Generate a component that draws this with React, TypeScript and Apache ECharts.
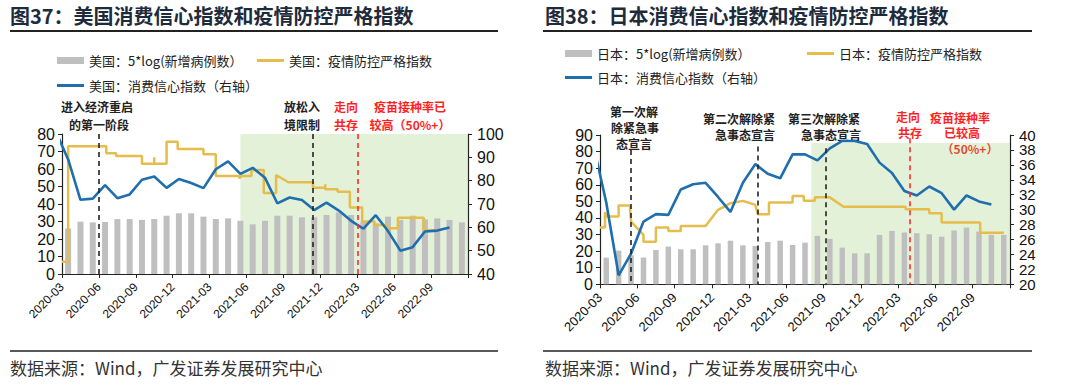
import React, { useEffect, useRef } from 'react';
import * as echarts from 'echarts';

// x positions are months since 2020-03 (0 = start of 2020-03)
const quarterLabels = ['2020-03', '2020-06', '2020-09', '2020-12', '2021-03', '2021-06', '2021-09', '2021-12', '2022-03', '2022-06', '2022-09'];

// Monthly bars 2020-03 .. 2022-11 : 5*log(new cases)
const usCasesLog = [26, 29.9, 29.5, 29.7, 31.4, 31.4, 30.9, 31.4, 33.3, 34.7, 34.7, 32.8, 31.4, 31.8, 30.4, 28.4, 30.4, 33.3, 33.3, 32.4, 32.4, 33.7, 35.2, 33.7, 29.9, 29.0, 32.8, 30.9, 33.3, 31.2, 31.8, 30.9, 29.5];
const jpCasesLog = [16.1, 20.3, 17.5, 16.1, 20.7, 22.7, 21.1, 21.1, 23.5, 24.7, 26.3, 23.5, 23.1, 25.5, 26.3, 23.7, 25.1, 29.2, 27.4, 22.1, 18.7, 18.7, 29.8, 32.2, 31.2, 30.8, 30.2, 28.7, 32.4, 34.2, 31.8, 29.8, 29.8];

// Monthly consumer confidence 2020-02 .. 2022-10 (right axis)
const usConfidence = [101.0, 89.1, 71.8, 72.3, 78.1, 72.5, 74.1, 80.4, 81.8, 76.9, 80.7, 79.0, 76.8, 84.9, 88.3, 82.9, 85.5, 81.2, 70.3, 72.8, 71.7, 67.4, 70.6, 67.2, 62.8, 59.4, 65.2, 58.4, 50.0, 51.5, 58.2, 58.6, 59.9];
const jpConfidence = [38.4, 31.0, 21.2, 24.1, 28.4, 29.4, 29.3, 32.7, 33.4, 33.6, 31.7, 29.7, 33.6, 36.1, 34.8, 34.2, 37.4, 37.4, 36.6, 38.2, 39.2, 39.2, 38.8, 36.3, 34.9, 32.5, 31.9, 33.1, 32.2, 30.0, 31.9, 31.1, 30.7];

// Stringency index, [month position, value]
const usStringency = [[0, 7], [0.5, 7], [0.5, 73], [3.6, 73], [3.6, 69], [4.4, 69], [4.4, 67.4], [6.5, 67.4], [6.5, 63], [7.5, 63], [7.5, 66.7], [7.5, 63], [8.5, 63], [8.5, 75.6], [9.4, 75.6], [9.4, 71.4], [11.5, 71.4], [11.5, 68.4], [12.5, 68.4], [12.5, 56], [14.4, 56], [14.4, 54.7], [14.6, 56], [15.4, 56], [15.4, 59.4], [16.4, 59.4], [16.4, 46.3], [17.4, 46.3], [17.4, 56.6], [18.4, 52.4], [20.4, 52.4], [20.4, 49.3], [21.4, 49.3], [21.4, 51.3], [21.4, 48.4], [22.4, 48.4], [22.4, 47], [23.4, 47], [23.4, 38], [24.4, 38], [24.4, 30], [25.4, 30], [25.4, 28], [26.4, 28], [26.4, 26.1], [27.3, 26.1], [27.3, 32.2], [28.4, 32.2], [28.4, 31], [28.6, 32.2], [29.4, 32.2], [29.4, 25], [30.4, 25]];
const jpStringency = [[0, 34.2], [0.4, 34.2], [0.4, 43.5], [0.5, 40.8], [1.5, 40.8], [1.5, 47.5], [2.4, 47.5], [2.5, 37.8], [3.5, 29.8], [3.5, 25.7], [4.5, 25.7], [4.5, 34.2], [5.5, 34.2], [5.5, 32.2], [6.5, 32.2], [6.5, 35.2], [8.5, 35.2], [9.5, 44.9], [10.5, 48.9], [11.5, 50.3], [12.5, 47.9], [12.7, 42.3], [13.6, 42.3], [13.6, 49.3], [15.5, 49.3], [15.5, 53.3], [16.4, 53.3], [16.4, 50.4], [17.3, 50.4], [17.3, 52.4], [18.5, 52.4], [19.6, 46.8], [24.6, 46.8], [24.6, 45.2], [26.5, 45.2], [26.5, 42.8], [27.5, 42.8], [27.5, 37.2], [30.6, 37.2], [30.6, 31.1], [32.5, 31.1]];

// Event markers: [month position, top value on left axis]
const usEvents = [[3, 80], [20.4, 80]];
const usRedEvents = [[24, 80]];
const jpEvents = [[2.5, 81], [12.7, 83], [18.2, 82]];
const jpRedEvents = [[24.9, 88]];
const usShade = [14.5, 33, 80];
const jpShade = [17, 33, 85.2];

const names = {
  usBar: '美国：5*log(新增病例数）',
  usStr: '美国：疫情防控严格指数',
  usConf: '美国：消费信心指数（右轴）',
  jpBar: '日本：5*log(新增病例数）',
  jpStr: '日本：疫情防控严格指数',
  jpConf: '日本：消费信心指数（右轴）',
};

const GRAY = '#bfbfbf';
const YELLOW = '#e5bd4d';
const BLUE = '#1f6eae';
const AX = '#222';
const NUM_FONT = 'Liberation Sans, Arial, sans-serif';
const CJK = '"Noto Sans CJK SC", sans-serif';

function xAxisFor(gridIndex: number, fontSize: number, margin: number) {
  return {
    type: 'value', gridIndex, min: 0, max: 33, interval: 3,
    axisLine: { show: true, onZero: false, lineStyle: { color: AX, width: 1.2 } },
    axisTick: { show: true, length: 4, lineStyle: { color: AX } },
    splitLine: { show: false },
    axisLabel: {
      rotate: 45, margin, fontSize, color: '#111', fontFamily: NUM_FONT,
      formatter: (v: number) => quarterLabels[Math.round(v / 3)] ?? '',
    },
  };
}
function yAxisFor(gridIndex: number, position: string, min: number, max: number, interval: number, fontSize: number) {
  return {
    type: 'value', gridIndex, position, min, max, interval,
    axisLine: { show: true, lineStyle: { color: AX, width: 1.2 } },
    axisTick: { show: true, length: 4, lineStyle: { color: AX } },
    splitLine: { show: false },
    axisLabel: {
      fontSize, color: '#111', fontFamily: NUM_FONT, margin: position === 'left' ? 7 : 9,
      showMinLabel: true, showMaxLabel: true, hideOverlap: false,
    },
  };
}

function overlaySeries(xi: number, yi: number, shade: number[], events: number[][], redEvents: number[][]) {
  const dash = (c: string) => ({ color: c, type: [5, 4], width: 1.6 });
  return {
    type: 'line', xAxisIndex: xi, yAxisIndex: yi, data: [], z: 10, silent: true,
    markArea: {
      silent: true,
      itemStyle: { color: 'rgba(141,195,95,0.24)' },
      data: [[{ xAxis: shade[0], yAxis: 0 }, { xAxis: shade[1], yAxis: shade[2] }]],
    },
    markLine: {
      silent: true, symbol: ['none', 'none'], label: { show: false },
      data: [
        ...events.map(e => [{ xAxis: e[0], yAxis: e[1], lineStyle: dash('#222') }, { xAxis: e[0], yAxis: 0 }]),
        ...redEvents.map(e => [{ xAxis: e[0], yAxis: e[1], lineStyle: dash('#ff2a2a') }, { xAxis: e[0], yAxis: 0 }]),
      ],
    },
  };
}

function legendItem(name: string, left: number, top: number, isBar: boolean, color: string) {
  return {
    data: [{ name, icon: 'rect', itemStyle: { color } }], left, top, padding: 0, selectedMode: false,
    itemWidth: 27, itemHeight: isBar ? 7 : 3,
    textStyle: { fontSize: 13, color: '#222', fontFamily: CJK },
  };
}

function txt(x: number, y: number, text: string, opts: any = {}) {
  return {
    type: 'text', x, y, silent: true,
    style: {
      text, fill: opts.fill ?? '#222', fontSize: opts.size ?? 12, fontWeight: opts.weight ?? 'bold',
      fontFamily: opts.family ?? CJK, textAlign: opts.align ?? 'center', textVerticalAlign: 'middle',
    },
  };
}
function hline(x1: number, x2: number, y: number, w: number) {
  return { type: 'line', silent: true, shape: { x1, y1: y, x2, y2: y }, style: { stroke: '#222', lineWidth: w } };
}

export default function App() {
  const ref = useRef<HTMLDivElement>(null);
  useEffect(() => {
    if (!ref.current) return;
    const chart = echarts.init(ref.current, null, { renderer: 'svg' });
    const RED = '#ff1f1f';
    const option: any = {
      animation: false,
      backgroundColor: '#fff',
      grid: [
        { left: 62, right: 1080 - 468, top: 134, bottom: 387 - 274, outerBoundsMode: 'none' },
        { left: 600, right: 1080 - 1010, top: 135, bottom: 387 - 284.3, outerBoundsMode: 'none' },
      ],
      xAxis: [xAxisFor(0, 12, 11), xAxisFor(1, 13, 11)],
      yAxis: [
        yAxisFor(0, 'left', 0, 80, 10, 16),
        yAxisFor(0, 'right', 40, 100, 10, 16),
        yAxisFor(1, 'left', 0, 90, 10, 16),
        yAxisFor(1, 'right', 20, 40, 2, 15),
      ],
      legend: [
        legendItem(names.usBar, 57, 54, true, GRAY),
        legendItem(names.usStr, 257, 54, false, YELLOW),
        legendItem(names.usConf, 57, 79, false, BLUE),
        legendItem(names.jpBar, 565, 47, true, GRAY),
        legendItem(names.jpStr, 807, 47, false, YELLOW),
        legendItem(names.jpConf, 565, 71, false, BLUE),
      ],
      series: [
        { name: names.usBar, type: 'bar', xAxisIndex: 0, yAxisIndex: 0, barWidth: 6, itemStyle: { color: GRAY }, data: usCasesLog.map((v, i) => [i + 0.5, v]) },
        { name: names.usStr, type: 'line', xAxisIndex: 0, yAxisIndex: 0, symbol: 'none', lineStyle: { color: YELLOW, width: 2.5 }, itemStyle: { color: YELLOW }, data: usStringency },
        { name: names.usConf, type: 'line', xAxisIndex: 0, yAxisIndex: 1, symbol: 'none', lineStyle: { color: BLUE, width: 2.6 }, itemStyle: { color: BLUE }, data: usConfidence.map((v, i) => [i - 0.5, v]) },
        overlaySeries(0, 0, usShade, usEvents, usRedEvents),
        { name: names.jpBar, type: 'bar', xAxisIndex: 1, yAxisIndex: 2, barWidth: 5.5, itemStyle: { color: GRAY }, data: jpCasesLog.map((v, i) => [i + 0.5, v]) },
        { name: names.jpStr, type: 'line', xAxisIndex: 1, yAxisIndex: 2, symbol: 'none', lineStyle: { color: YELLOW, width: 2.5 }, itemStyle: { color: YELLOW }, data: jpStringency },
        { name: names.jpConf, type: 'line', xAxisIndex: 1, yAxisIndex: 3, symbol: 'none', lineStyle: { color: BLUE, width: 2.6 }, itemStyle: { color: BLUE }, data: jpConfidence.map((v, i) => [i - 0.5, v]) },
        overlaySeries(1, 2, jpShade, jpEvents, jpRedEvents),
      ],
      graphic: [
        txt(10, 15, '图37：美国消费信心指数和疫情防控严格指数', { size: 20, weight: 'bold', fill: '#1d2b3c', align: 'left' }),
        txt(545, 15, '图38：日本消费信心指数和疫情防控严格指数', { size: 20, weight: 'bold', fill: '#1d2b3c', align: 'left' }),
        hline(10, 498, 31, 2),
        hline(543, 1032, 31, 2),
        hline(10, 498, 351, 1.6),
        hline(543, 1032, 351, 1.6),
        txt(10, 367, '数据来源：Wind，广发证券发展研究中心', { size: 17, weight: 'normal', fill: '#333', align: 'left' }),
        txt(545, 367, '数据来源：Wind，广发证券发展研究中心', { size: 17, weight: 'normal', fill: '#333', align: 'left' }),
        // US annotations
        txt(97, 106, '进入经济重启'),
        txt(99, 124, '的第一阶段'),
        txt(302, 106, '放松入'),
        txt(302, 124, '境限制'),
        txt(346, 106, '走向', { fill: RED }),
        txt(346, 124, '共存', { fill: RED }),
        txt(410, 106, '疫苗接种率已', { fill: RED }),
        txt(410, 124, '较高（50%+）', { fill: RED }),
        // Japan annotations
        txt(634, 111, '第一次解'),
        txt(635, 127, '除紧急事'),
        txt(634, 143, '态宣言'),
        txt(739, 118, '第二次解除紧'),
        txt(745, 134, '急事态宣言'),
        txt(824, 118, '第三次解除紧'),
        txt(831, 134, '急事态宣言'),
        txt(908, 116, '走向', { fill: RED }),
        txt(910, 132, '共存', { fill: RED }),
        txt(960, 117, '疫苗接种率', { fill: RED }),
        txt(962, 132, '已较高', { fill: RED }),
        txt(970, 148, '（50%+）', { fill: RED }),
      ],
    };
    chart.setOption(option);
    return () => chart.dispose();
  }, []);
  return <div ref={ref} style={{ position: 'absolute', left: 0, top: 0, width: 1080, height: 387 }} />;
}
